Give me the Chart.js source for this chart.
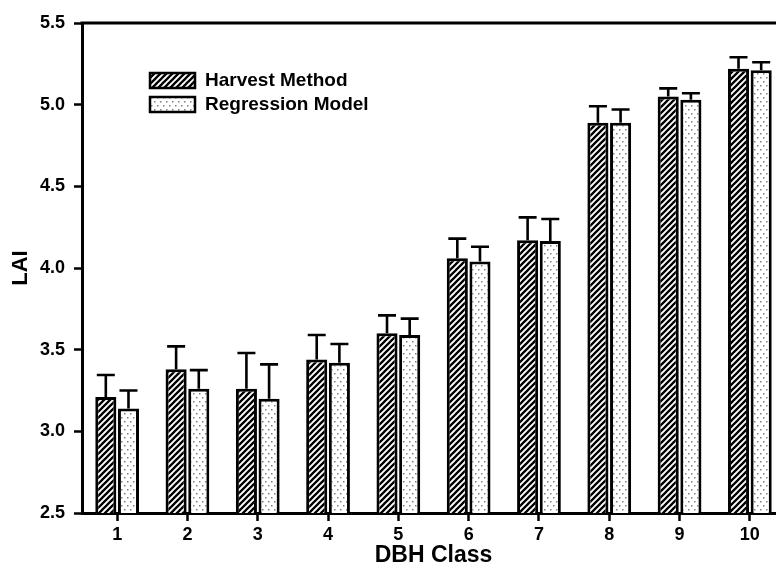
<!DOCTYPE html>
<html>
<head>
<meta charset="utf-8">
<script src="https://cdn.jsdelivr.net/npm/chart.js@4"></script>
<style>
html,body{margin:0;padding:0;background:#fff;overflow:hidden;width:776px;height:567px;}
#wrap{width:800px;height:567px;}
</style>
</head>
<body>
<div id="wrap"><canvas id="c" width="800" height="567"></canvas></div>
<script>
const categories = ['1','2','3','4','5','6','7','8','9','10'];
const harvestValues = [3.21, 3.38, 3.26, 3.44, 3.60, 4.06, 4.17, 4.89, 5.05, 5.22];
const harvestErrors = [0.135, 0.14, 0.22, 0.15, 0.11, 0.12, 0.14, 0.10, 0.05, 0.07];
const regressionValues = [3.14, 3.26, 3.20, 3.42, 3.59, 4.04, 4.165, 4.89, 5.03, 5.21];
const regressionErrors = [0.11, 0.115, 0.21, 0.115, 0.10, 0.09, 0.135, 0.08, 0.04, 0.05];
const seriesNames = ['Harvest Method', 'Regression Model'];
const yTicks = [2.5, 3.0, 3.5, 4.0, 4.5, 5.0, 5.5];

const FONT = '"Liberation Sans", Arial, Helvetica, sans-serif';

function hatchPattern() {
  const t = document.createElement('canvas');
  t.width = 6; t.height = 6;
  const g = t.getContext('2d');
  g.fillStyle = '#fff'; g.fillRect(0, 0, 6, 6);
  g.strokeStyle = '#000'; g.lineWidth = 2.3;
  g.beginPath();
  g.moveTo(-1, 7); g.lineTo(7, -1);
  g.moveTo(-4, 4); g.lineTo(4, -4);
  g.moveTo(2, 10); g.lineTo(10, 2);
  g.stroke();
  return g.createPattern(t, 'repeat');
}
function dotPattern() {
  const t = document.createElement('canvas');
  t.width = 6; t.height = 8;
  const g = t.getContext('2d');
  g.fillStyle = '#fff'; g.fillRect(0, 0, 6, 8);
  g.fillStyle = '#808080';
  g.fillRect(1, 1, 1.5, 1.5);
  g.fillRect(4, 5, 1.5, 1.5);
  return g.createPattern(t, 'repeat');
}
const hatch = hatchPattern();
const dots = dotPattern();

const errorBars = {
  id: 'errorBars',
  afterDatasetsDraw(chart) {
    const ctx = chart.ctx;
    const ys = chart.scales.y;
    const errs = [harvestErrors, regressionErrors];
    ctx.save();
    ctx.strokeStyle = '#000';
    ctx.lineWidth = 2.6;
    chart.data.datasets.forEach((ds, i) => {
      const meta = chart.getDatasetMeta(i);
      meta.data.forEach((el, j) => {
        const top = ys.getPixelForValue(ds.data[j] + errs[i][j]);
        ctx.beginPath();
        ctx.moveTo(el.x, el.y);
        ctx.lineTo(el.x, top);
        ctx.moveTo(el.x - 9, top);
        ctx.lineTo(el.x + 9, top);
        ctx.stroke();
      });
    });
    ctx.restore();
  }
};

const frameAndLegend = {
  id: 'frameAndLegend',
  afterDraw(chart) {
    const ctx = chart.ctx;
    const a = chart.chartArea;
    ctx.save();
    ctx.strokeStyle = '#000';
    ctx.lineWidth = 3;
    ctx.beginPath();
    ctx.moveTo(a.left - 1.5, a.top);
    ctx.lineTo(a.right, a.top);
    ctx.stroke();
    // legend
    const fills = [hatch, dots];
    const rows = [73, 97];
    ctx.font = 'bold 19px ' + FONT;
    ctx.textBaseline = 'middle';
    ctx.textAlign = 'left';
    seriesNames.forEach((name, i) => {
      ctx.fillStyle = fills[i];
      ctx.fillRect(150, rows[i], 45, 15);
      ctx.lineWidth = 2.5;
      ctx.strokeStyle = '#000';
      ctx.strokeRect(150, rows[i], 45, 15);
      ctx.fillStyle = '#000';
      ctx.fillText(name, 205, rows[i] + 8);
    });
    ctx.restore();
  }
};

new Chart(document.getElementById('c'), {
  type: 'bar',
  data: {
    labels: categories,
    datasets: [
      { label: seriesNames[0], data: harvestValues, backgroundColor: hatch, borderColor: '#000', borderWidth: 3, borderSkipped: false },
      { label: seriesNames[1], data: regressionValues, backgroundColor: dots, borderColor: '#000', borderWidth: 3, borderSkipped: false }
    ]
  },
  options: {
    responsive: false,
    animation: false,
    devicePixelRatio: 1,
    layout: { padding: { left: 0, right: 15, top: 23, bottom: 0 } },
    datasets: { bar: { categoryPercentage: 0.645, barPercentage: 0.93 } },
    plugins: { legend: { display: false }, tooltip: { enabled: false } },
    scales: {
      x: {
        offset: true,
        grid: { display: true, drawOnChartArea: false, drawTicks: true, tickLength: 8, tickWidth: 2.5, tickColor: '#000', offset: false },
        border: { display: true, color: '#000', width: 3 },
        ticks: { color: '#000', font: { family: FONT, size: 18, weight: 'bold' }, padding: 3, maxRotation: 0 },
        title: { display: true, text: 'DBH Class', color: '#000', font: { family: FONT, size: 23, weight: 'bold', lineHeight: 1.0 }, padding: { top: 0, bottom: 0 } },
        afterFit(s) { s.height = 54; }
      },
      y: {
        min: 2.5, max: 5.5,
        afterBuildTicks(s) { s.ticks = yTicks.map(v => ({ value: v })); },
        grid: { display: true, drawOnChartArea: false, drawTicks: true, tickLength: 8, tickWidth: 2.5, tickColor: '#000' },
        border: { display: true, color: '#000', width: 3 },
        ticks: { color: '#000', font: { family: FONT, size: 18, weight: 'bold' }, padding: 9, callback: v => Number(v).toFixed(1) },
        title: { display: true, text: 'LAI', color: '#000', font: { family: FONT, size: 22, weight: 'bold', lineHeight: 1.2 }, padding: { top: 8, bottom: 0 } },
        afterFit(s) { s.width = 82; }
      }
    }
  },
  plugins: [errorBars, frameAndLegend]
});
</script>
</body>
</html>
